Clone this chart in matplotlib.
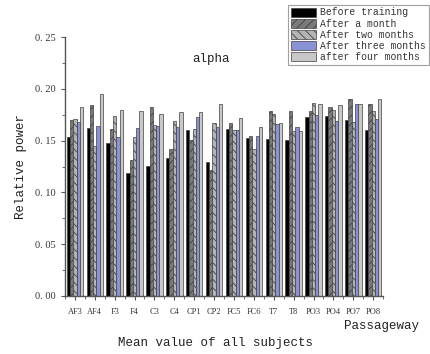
import matplotlib
matplotlib.use("Agg")
import matplotlib.pyplot as plt
import numpy as np
from matplotlib.ticker import MultipleLocator, FixedLocator

channels = ["AF3", "AF4", "F3", "F4", "C3", "C4", "CP1", "CP2", "FC5", "FC6",
            "T7", "T8", "PO3", "PO4", "PO7", "PO8"]
series_names = ["Before training", "After a month", "After two months",
                "After three months", "after four months"]
before = [0.154, 0.162, 0.148, 0.119, 0.126, 0.133, 0.160, 0.129, 0.161, 0.153,
          0.152, 0.151, 0.173, 0.174, 0.170, 0.160]
month1 = [0.170, 0.184, 0.161, 0.131, 0.183, 0.142, 0.151, 0.122, 0.167, 0.155,
          0.179, 0.179, 0.179, 0.183, 0.190, 0.185]
month2 = [0.171, 0.145, 0.174, 0.154, 0.165, 0.169, 0.161, 0.167, 0.160, 0.142,
          0.176, 0.159, 0.186, 0.180, 0.168, 0.179]
month3 = [0.168, 0.164, 0.154, 0.162, 0.164, 0.163, 0.173, 0.163, 0.160, 0.155,
          0.166, 0.163, 0.175, 0.169, 0.185, 0.171]
month4 = [0.183, 0.195, 0.180, 0.179, 0.176, 0.178, 0.178, 0.185, 0.172, 0.163,
          0.167, 0.159, 0.185, 0.184, 0.185, 0.190]
yticks = [0.00, 0.05, 0.10, 0.15, 0.20, 0.25]
ytick_labels = ["0. 00", "0. 05", "0. 10", "0. 15", "0. 20", "0. 25"]

series = [before, month1, month2, month3, month4]
fills = ["#000000", "#7a7a7a", "#b4b4b4", "#8a92d6", "#c8c8c8"]
hatches = [None, "////", "\\\\\\\\", None, None]

mono = ["Liberation Mono", "DejaVu Sans Mono"]
serif = ["Liberation Serif", "DejaVu Serif"]
plt.rcParams["hatch.linewidth"] = 0.6
plt.rcParams["hatch.color"] = "#333333"

fig = plt.figure(figsize=(4.30, 3.54), dpi=100)
ax = fig.add_axes([0.151, 0.164, 0.740, 0.731])

x = np.arange(len(channels))
w = 0.165
for i, (vals, fc, h) in enumerate(zip(series, fills, hatches)):
    ax.bar(x + (i - 2) * w, vals, width=w, color=fc, edgecolor="#404040",
           linewidth=0.5, hatch=h, label=series_names[i])

ax.set_xlim(-0.5, len(channels) - 0.5)
ax.set_ylim(0, 0.25)
ax.set_yticks(yticks)
ax.set_yticklabels(ytick_labels, fontfamily=serif, fontsize=7.5, color="#333333")
ax.yaxis.set_minor_locator(MultipleLocator(0.025))
ax.set_xticks(x)
ax.set_xticklabels(channels, fontfamily=serif, fontsize=6, color="#333333")
ax.xaxis.set_minor_locator(FixedLocator(np.arange(-0.5, len(channels), 1.0)))
ax.tick_params(axis="both", which="major", direction="out", length=3, width=0.8, color="#555555")
ax.tick_params(axis="both", which="minor", direction="out", length=2, width=0.6, color="#555555")
ax.tick_params(axis="x", pad=6)
for s in ["top", "right"]:
    ax.spines[s].set_visible(False)
for s in ["left", "bottom"]:
    ax.spines[s].set_color("#555555")
    ax.spines[s].set_linewidth(1.0)

ax.set_ylabel("Relative power", fontfamily=mono, fontsize=9, color="#222222", labelpad=6)
ax.text(0.46, 0.915, "alpha", transform=ax.transAxes, ha="center", va="center",
        fontfamily=mono, fontsize=9, color="#222222")
fig.text(0.975, 0.078, "Passageway", ha="right", va="center", fontfamily=mono,
         fontsize=9, color="#222222")
fig.text(0.50, 0.030, "Mean value of all subjects", ha="center", va="center",
         fontfamily=mono, fontsize=9, color="#222222")

leg = fig.legend(loc="upper right", bbox_to_anchor=(1.0, 0.99), prop={"family": mono, "size": 7},
                 frameon=True, fancybox=False, edgecolor="#888888", handlelength=2.6,
                 handleheight=1.05, labelspacing=0.12, borderpad=0.3, handletextpad=0.4,
                 borderaxespad=0.1)
leg.get_frame().set_linewidth(0.8)
for t in leg.get_texts():
    t.set_color("#333333")

fig.savefig("out.png", dpi=100, facecolor="white")
